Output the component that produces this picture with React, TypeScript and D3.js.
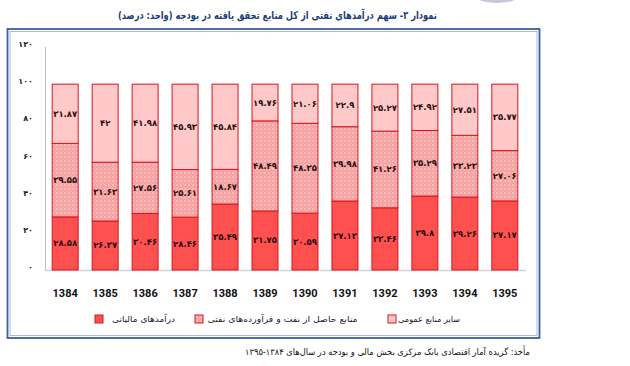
import React from 'react';
import * as d3 from 'd3';

const years = ['1384', '1385', '1386', '1387', '1388', '1389', '1390', '1391', '1392', '1393', '1394', '1395'];
const taxRevenue = [28.58, 26.37, 30.46, 28.46, 35.49, 31.75, 30.59, 37.13, 33.46, 39.8, 39.26, 37.17];
const oilResources = [39.55, 31.63, 27.56, 25.61, 18.67, 48.49, 48.35, 39.98, 41.26, 35.29, 33.23, 27.06];
const otherResources = [31.87, 42, 41.98, 45.93, 45.84, 19.76, 21.06, 22.9, 25.27, 24.92, 27.51, 35.77];
const yTicks = [0, 20, 40, 60, 80, 100, 120];
const seriesNames = ['درآمدهای مالیاتی', 'منابع حاصل از نفت و فرآورده‌های نفتی', 'سایر منابع عمومی'];
const titleText = 'نمودار ۲- سهم درآمدهای نفتی از کل منابع تحقق یافته در بودجه (واحد: درصد)';
const sourceText = 'مأخذ: گزیده آمار اقتصادی بانک مرکزی بخش مالی و بودجه در سال‌های ۱۳۸۴-۱۳۹۵';

const faDigits = (s: string) => s.replace(/[0-9]/g, (d) => '۰۱۲۳۴۵۶۷۸۹'[+d]);

const FA = '"DejaVu Sans", sans-serif';

export default function App() {
  const x = d3.scaleBand<string>().domain(years).range([45, 525]).paddingInner(0.35).paddingOuter(0.18);
  const y = d3.scaleLinear().domain([0, 120]).range([270, 47]);

  const seriesList = [taxRevenue, oilResources, otherResources];
  const fills = ['#FF5050', 'url(#dots)', '#FFC9C9'];
  const stroke = '#D9141C';

  const rows = years.map((yr, i) => ({ yr, tax: taxRevenue[i], oil: oilResources[i], other: otherResources[i] }));
  const stack = d3.stack<any>().keys(['tax', 'oil', 'other'])(rows);

  const legendItems = [
    { sq: 99, cx: 143.5, w: 63 },
    { sq: 199, cx: 282.5, w: 150 },
    { sq: 392, cx: 429, w: 62 },
  ];

  return (
    <svg width={630} height={366} style={{ position: 'absolute', left: 0, top: 0, background: '#fff' }}>
      <defs>
        <pattern id="dots" width={4} height={4} patternUnits="userSpaceOnUse">
          <rect width={4} height={4} fill="#F6A2A2" />
          <circle cx={1} cy={1} r={0.7} fill="#FFE6E6" />
          <circle cx={3} cy={3} r={0.4} fill="#FBD0D0" />
        </pattern>
      </defs>
      <ellipse cx={497} cy={-3} rx={20} ry={6} fill="#CBC6DC" />
      <text x={277.5} y={19} textAnchor="middle" direction="rtl" fontFamily={FA} fontWeight="bold" fontSize={11}
        fill="#1F3D7A" textLength={319} lengthAdjust="spacingAndGlyphs">{titleText}</text>

      <rect x={7.5} y={29} width={532} height={309} fill="none" stroke="#3B5EA6" strokeWidth={1.8} />
      <rect x={10} y={31.5} width={527} height={304} fill="none" stroke="#9AA8CC" strokeWidth={0.8} />

      {yTicks.map((t) => (
        <text key={t} x={33} y={y(t)} textAnchor="end" fontFamily={FA} fontSize={8} fill="#222" fontWeight="bold">
          {faDigits(String(t))}
        </text>
      ))}
      <line x1={45.5} x2={45.5} y1={47} y2={270} stroke="#BFBFBF" strokeWidth={1} />
      <line x1={45} x2={526} y1={270.5} y2={270.5} stroke="#D3D3D3" strokeWidth={1.5} />

      {stack.map((layer, si) =>
        layer.map((d, i) => {
          const bx = x(years[i])!;
          const bw = x.bandwidth();
          const y0 = y(d[0]);
          const y1 = y(d[1]);
          return (
            <g key={`${si}-${i}`}>
              <rect x={bx} y={y1} width={bw} height={y0 - y1} fill={fills[si]} stroke={stroke} strokeWidth={1} />
              <text x={bx + bw / 2} y={(y0 + y1) / 2 + 3} textAnchor="middle" fontFamily={FA} fontWeight="bold"
                fontSize={8.5} fill="#2a1010">
                {faDigits(String(seriesList[si][i]))}
              </text>
            </g>
          );
        })
      )}

      {years.map((yr) => (
        <text key={yr} x={x(yr)! + x.bandwidth() / 2} y={297} textAnchor="middle" fontFamily="Roboto, sans-serif"
          fontWeight="bold" fontSize={11} fill="#111">{yr}</text>
      ))}

      {legendItems.map((it, i) => (
        <g key={i}>
          <rect x={it.sq - 4} y={315} width={8} height={8} fill={fills[i]} stroke={stroke} strokeWidth={1} />
          <text x={it.cx} y={322} textAnchor="middle" direction="rtl" fontFamily={FA} fontSize={8.5} fill="#222"
            textLength={it.w} lengthAdjust="spacingAndGlyphs">{seriesNames[i]}</text>
        </g>
      ))}

      <text x={387.5} y={355} textAnchor="middle" direction="rtl" fontFamily={FA} fontSize={9} fill="#111"
        textLength={285} lengthAdjust="spacingAndGlyphs">{sourceText}</text>
    </svg>
  );
}
